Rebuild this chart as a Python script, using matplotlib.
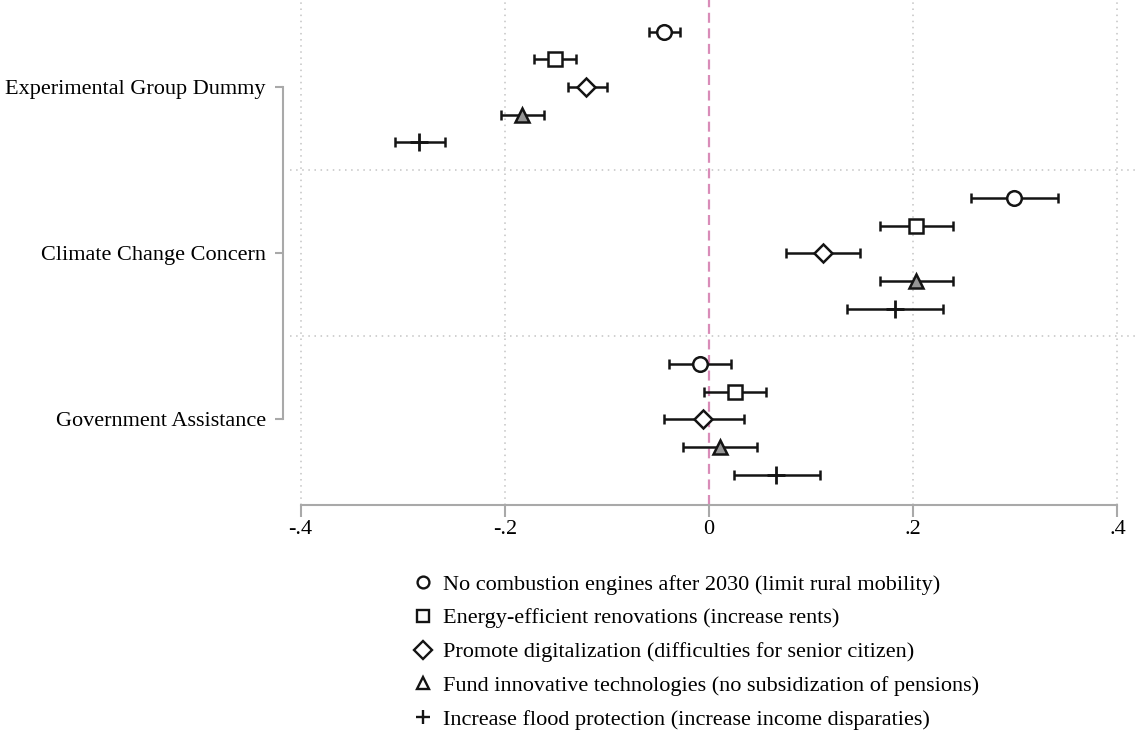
import matplotlib
matplotlib.use("Agg")
import matplotlib.pyplot as plt
from matplotlib.lines import Line2D

# ---------------- data ----------------
groups = ["Experimental Group Dummy", "Climate Change Concern", "Government Assistance"]
series = [
    "No combustion engines after 2030 (limit rural mobility)",
    "Energy-efficient renovations (increase rents)",
    "Promote digitalization (difficulties for senior citizen)",
    "Fund innovative technologies (no subsidization of pensions)",
    "Increase flood protection (increase income disparaties)",
]
coef_combustion = [-0.044, 0.299, -0.009]
lo_combustion = [-0.059, 0.257, -0.039]
hi_combustion = [-0.028, 0.342, 0.022]

coef_renov = [-0.151, 0.203, 0.025]
lo_renov = [-0.171, 0.167, -0.005]
hi_renov = [-0.130, 0.239, 0.056]

coef_digital = [-0.120, 0.112, -0.006]
lo_digital = [-0.138, 0.075, -0.044]
hi_digital = [-0.100, 0.148, 0.034]

coef_innov = [-0.183, 0.203, 0.011]
lo_innov = [-0.204, 0.167, -0.025]
hi_innov = [-0.162, 0.239, 0.047]

coef_flood = [-0.284, 0.182, 0.066]
lo_flood = [-0.308, 0.135, 0.024]
hi_flood = [-0.259, 0.229, 0.109]

xticks = [-0.4, -0.2, 0.0, 0.2, 0.4]
xticklabels = ["-.4", "-.2", "0", ".2", ".4"]

# ---------------- style ----------------
plt.rcParams["font.family"] = ["Liberation Serif", "DejaVu Serif"]
W, H = 1135, 736
fig = plt.figure(figsize=(W / 100, H / 100), dpi=100)
fig.patch.set_facecolor("white")

x0px, zero_px, ppu = 290, 709, 1021.0
ax = fig.add_axes([x0px / W, 1 - 505 / H, (W - x0px) / W, 505 / H])
ax.set_xlim((x0px - zero_px) / ppu, (W - zero_px) / ppu)
row_px, g0_px = 27.7, 87
ax.set_ylim((505 - g0_px) / row_px, (0 - g0_px) / row_px)

axis_col = "#a9a9a9"
grid_col = "#c4c4c4"
ink = "#141414"

for s in ["top", "right"]:
    ax.spines[s].set_visible(False)
ax.spines["bottom"].set_bounds(-0.4, 0.4)
ax.spines["bottom"].set_color(axis_col)
ax.spines["bottom"].set_linewidth(1.5)
ax.spines["left"].set_position(("outward", 5))
ax.spines["left"].set_bounds(0, 12)
ax.spines["left"].set_color(axis_col)
ax.spines["left"].set_linewidth(1.5)

ax.set_xticks(xticks)
ax.set_xticklabels(xticklabels, fontsize=16)
ax.set_yticks([0, 6, 12])
ax.set_yticklabels(groups, fontsize=16)
ax.tick_params(axis="x", length=8.5, width=1.5, color=axis_col, pad=2.5)
ax.tick_params(axis="y", length=6, width=1.5, color=axis_col, pad=6.5)

# grid lines
for xv in xticks:
    if xv != 0:
        ax.axvline(xv, color=grid_col, lw=1.1, ls=(0, (1, 3)), zorder=0)
for yv in [3, 9]:
    ax.axhline(yv, color=grid_col, lw=1.1, ls=(0, (1, 3)), zorder=0)
ax.axvline(0, color="#d98cb8", lw=1.6, ls=(0, (4.5, 2.5)), zorder=1)

coefs = [coef_combustion, coef_renov, coef_digital, coef_innov, coef_flood]
los = [lo_combustion, lo_renov, lo_digital, lo_innov, lo_flood]
his = [hi_combustion, hi_renov, hi_digital, hi_innov, hi_flood]
markers = ["o", "s", "D", "^", "+"]
msizes = [10.5, 10.0, 9.3, 10.5, 13.0]
faces = ["white", "white", "white", "#959595", ink]

for i in range(len(series)):
    ys = [g * 6 + (i - 2) for g in range(len(groups))]
    c = coefs[i]
    xerr = [[c[k] - los[i][k] for k in range(3)], [his[i][k] - c[k] for k in range(3)]]
    ax.errorbar(c, ys, xerr=xerr, fmt="none", ecolor=ink, elinewidth=1.8,
                capsize=3.6, capthick=1.8, zorder=2)
    ax.plot(c, ys, linestyle="none", marker=markers[i], ms=msizes[i],
            mfc=faces[i], mec=ink, mew=1.8 if markers[i] != "+" else 2.0, zorder=3)

handles = []
leg_sizes = [8.5, 8.5, 9, 8.5, 10]
for i in range(len(series)):
    handles.append(Line2D([], [], linestyle="none", marker=markers[i], ms=leg_sizes[i],
                          mfc="white" if markers[i] != "+" else ink, mec=ink, mew=1.7))
fig.legend(handles, series, loc="upper left", bbox_to_anchor=(412 / W, 1 - 574 / H),
           frameon=False, fontsize=16, handlelength=1.0, handletextpad=0.38,
           labelspacing=0.6, borderpad=0, borderaxespad=0)

fig.savefig("out.png", dpi=100, facecolor="white")
